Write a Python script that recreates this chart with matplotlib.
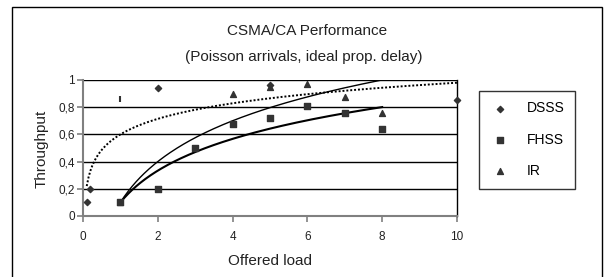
import numpy as np
import matplotlib
matplotlib.use("Agg")
import matplotlib.pyplot as plt
from matplotlib.patches import Rectangle

plt.rcParams['font.family'] = ['Liberation Sans Narrow', 'Liberation Sans', 'DejaVu Sans']

# data
dsss_x = [0.1, 0.2, 2, 5, 10]
dsss_y = [0.1, 0.2, 0.94, 0.96, 0.85]
fhss_x = [1, 2, 3, 4, 5, 6, 7, 8]
fhss_y = [0.1, 0.2, 0.5, 0.68, 0.72, 0.81, 0.76, 0.64]
ir_x = [1, 4, 5, 6, 7, 8]
ir_y = [0.1, 0.9, 0.95, 0.97, 0.875, 0.76]
odd_x = [1]
odd_y = [0.86]

# log trendlines y = a + b*ln(x), coefficients
dot_a, dot_b, dot_range = 0.6, 0.165, (0.1, 10)
thin_a, thin_b, thin_range = 0.1, 0.433, (1, 8)
thick_a, thick_b, thick_range = 0.1, 0.337, (1, 8)

W, H = 605, 277
fig = plt.figure(figsize=(W/100, H/100), dpi=100)
fig.patch.set_facecolor('white')
fig.add_artist(Rectangle((12/W, -0.02), 590/W, 1.02 - 7/H, transform=fig.transFigure,
                         fill=False, edgecolor='black', lw=1))

ax = fig.add_axes([83/W, 1 - 216/H, 374/W, 136/H])
ax.set_xlim(0, 10)
ax.set_ylim(0, 1)

def trend(a, b, rng):
    xs = np.linspace(rng[0], rng[1], 200)
    return xs, a + b*np.log(xs)

xs, ys = trend(dot_a, dot_b, dot_range)
ax.plot(xs, ys, color='black', lw=1.4, ls=(0, (1, 1)), zorder=3)
xs, ys = trend(thin_a, thin_b, thin_range)
ax.plot(xs, ys, color='black', lw=1.0, zorder=3)
xs, ys = trend(thick_a, thick_b, thick_range)
ax.plot(xs, ys, color='black', lw=1.5, zorder=3)

mc = '#333333'
ax.scatter(dsss_x, dsss_y, marker='D', s=10, color=mc, label='DSSS', zorder=4, clip_on=False)
ax.scatter(fhss_x, fhss_y, marker='s', s=22, color=mc, label='FHSS', zorder=4, clip_on=False)
ax.scatter(ir_x, ir_y, marker='^', s=18, color=mc, label='IR', zorder=4, clip_on=False)
ax.scatter(odd_x, odd_y, marker='|', s=25, color=mc, lw=1.5, zorder=4)

for v in [0.2, 0.4, 0.6, 0.8, 1.0]:
    ax.axhline(v, color='black', lw=1.0, zorder=1)

ax.spines['top'].set_visible(False)
ax.spines['right'].set_color('black')
ax.spines['right'].set_linewidth(1.0)
for s in ['left', 'bottom']:
    ax.spines[s].set_color('#808080')
    ax.spines[s].set_linewidth(1.5)

ax.set_xticks([0, 2, 4, 6, 8, 10])
ax.set_yticks([0, 0.2, 0.4, 0.6, 0.8, 1.0])
ax.set_yticklabels(['0', '0,2', '0,4', '0,6', '0,8', '1'])
ax.tick_params(axis='both', direction='out', length=4, width=1.2, color='#808080',
               labelsize=8.5, labelcolor='#222222')
ax.tick_params(axis='x', pad=7)
ax.tick_params(axis='y', pad=2)

fig.text(307/W, 1 - 31/H, 'CSMA/CA Performance', ha='center', va='center', fontsize=11, color='#222222')
fig.text(304/W, 1 - 57/H, '(Poisson arrivals, ideal prop. delay)', ha='center', va='center',
         fontsize=11, color='#222222')
fig.text(42/W, 1 - 149/H, 'Throughput', rotation=90, ha='center', va='center', fontsize=11, color='#222222')
fig.text(270/W, 1 - 261/H, 'Offered load', ha='center', va='center', fontsize=11, color='#222222')

leg = fig.legend(loc='upper left', bbox_to_anchor=(479/W, 1 - 91/H), fontsize=10,
                 frameon=True, fancybox=False, edgecolor='black', labelspacing=1.25,
                 handletextpad=1.2, borderpad=0.75, handlelength=1.5, borderaxespad=0)
leg.get_frame().set_linewidth(1.0)

fig.savefig('out.png', dpi=100)
